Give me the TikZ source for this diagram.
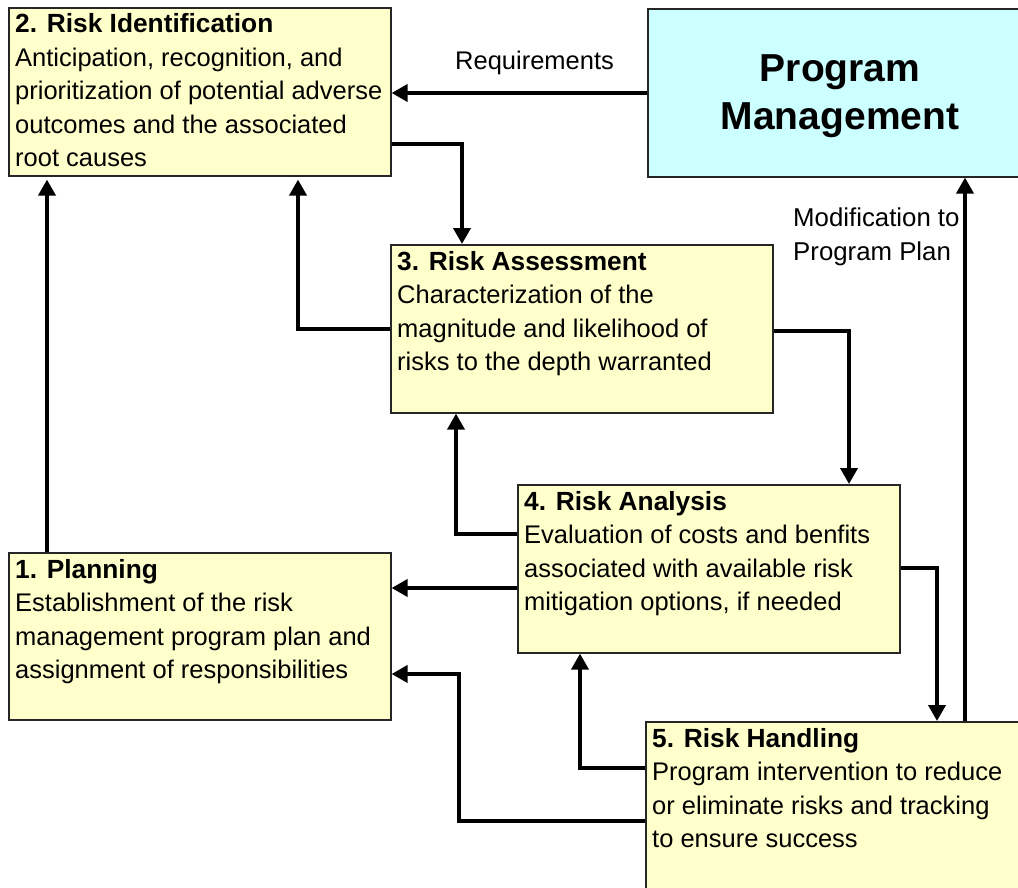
\documentclass[tikz,border=0pt]{standalone}
\usepackage{fontspec}
\setmainfont{Liberation Sans}
\usetikzlibrary{arrows.meta}

\definecolor{boxyellow}{HTML}{FFFFCC}
\definecolor{boxcyan}{HTML}{CCFFFF}

\tikzset{
  stagebox/.style={draw=black!85, line width=1.6pt, fill=boxyellow,
    rectangle, inner sep=0pt, anchor=north west},
  pmbox/.style={stagebox, fill=boxcyan},
  boxtext/.style={anchor=base west, inner sep=0pt,
    font=\fontsize{25.5}{33.5}\selectfont},
  flow/.style={line width=3.8pt, line join=miter,
    -{Triangle[length=16pt,width=17pt]}},
  plainlabel/.style={anchor=base west, inner sep=0pt,
    font=\fontsize{25.5}{34}\selectfont},
}

\newcommand{\stagetext}[2]{\parbox[t]{420pt}{\raggedright{\fontsize{26.3}{33.5}\selectfont\bfseries #1}\\#2}}

\begin{document}
\begin{tikzpicture}[x=1pt, y=-1pt]
  \useasboundingbox (0,0) rectangle (1018,888);
  \fill[white] (0,0) rectangle (1018,888);
  \clip (0,0) rectangle (1018,888);

  % stage boxes
  \node[stagebox, minimum width=382pt, minimum height=168pt] (ri)  at (8,7) {};
  \node[pmbox,    minimum width=390pt, minimum height=168pt] (pm)  at (647,8) {};
  \node[stagebox, minimum width=382pt, minimum height=168pt] (ra)  at (390,244) {};
  \node[stagebox, minimum width=382pt, minimum height=168pt] (ran) at (517,484) {};
  \node[stagebox, minimum width=382pt, minimum height=167pt] (pl)  at (8,552) {};
  \node[stagebox, minimum width=390pt, minimum height=190pt] (rh)  at (645,721) {};

  % stage texts
  \node[boxtext] (ritext) at (15,33)
    {\stagetext{2. Risk Identification}{Anticipation, recognition, and\\prioritization of potential adverse\\outcomes and the associated\\root causes}};
  \node[boxtext] (ratext) at (397,270)
    {\stagetext{3. Risk Assessment}{Characterization of the\\magnitude and likelihood of\\risks to the depth warranted}};
  \node[boxtext] (rantext) at (524,510)
    {\stagetext{4. Risk Analysis}{Evaluation of costs and benfits\\associated with available risk\\mitigation options, if needed}};
  \node[boxtext] (pltext) at (15,578)
    {\stagetext{1. Planning}{Establishment of the risk\\management program plan and\\assignment of responsibilities}};
  \node[boxtext] (rhtext) at (652,747)
    {\stagetext{5. Risk Handling}{Program intervention to reduce\\or eliminate risks and tracking\\to ensure success}};

  \node[anchor=base, inner sep=0pt] (pmtext) at (840,82)
    {\parbox[t]{360pt}{\centering\fontsize{39}{48}\selectfont\bfseries Program\\Management}};

  % connector labels
  \node[plainlabel] (reqlabel) at (455,70) {Requirements};
  \node[plainlabel] (modlabel) at (793,226)
    {\parbox[t]{200pt}{\fontsize{25.8}{34}\selectfont Modification to\\Program Plan}};

  % connectors
  \draw[flow] (pm.west |- 0,93) -- (ri.east |- 0,93);
  \draw[flow] (ri.east |- 0,144) -| (ra.north -| 462,0);
  \draw[flow, shorten >=3pt] (ra.west |- 0,329) -| (ri.south -| 298,0);
  \draw[flow, shorten >=3pt] (pl.north -| 47,0) -- (ri.south -| 47,0);
  \draw[flow] (ra.east |- 0,331) -| (ran.north -| 849,0);
  \draw[flow] (ran.west |- 0,534) -| (ra.south -| 456,0);
  \draw[flow] (ran.west |- 0,588) -- (pl.east |- 0,588);
  \draw[flow] (ran.east |- 0,568) -| (rh.north -| 937,0);
  \draw[flow] (rh.north -| 965,0) -- (pm.south -| 965,0);
  \draw[flow] (rh.west |- 0,768) -| (ran.south -| 580,0);
  \coordinate (plbend) at (459,674);
  \draw[flow] (rh.west |- 0,821) -| (plbend) -- (pl.east |- plbend);
\end{tikzpicture}
\end{document}
